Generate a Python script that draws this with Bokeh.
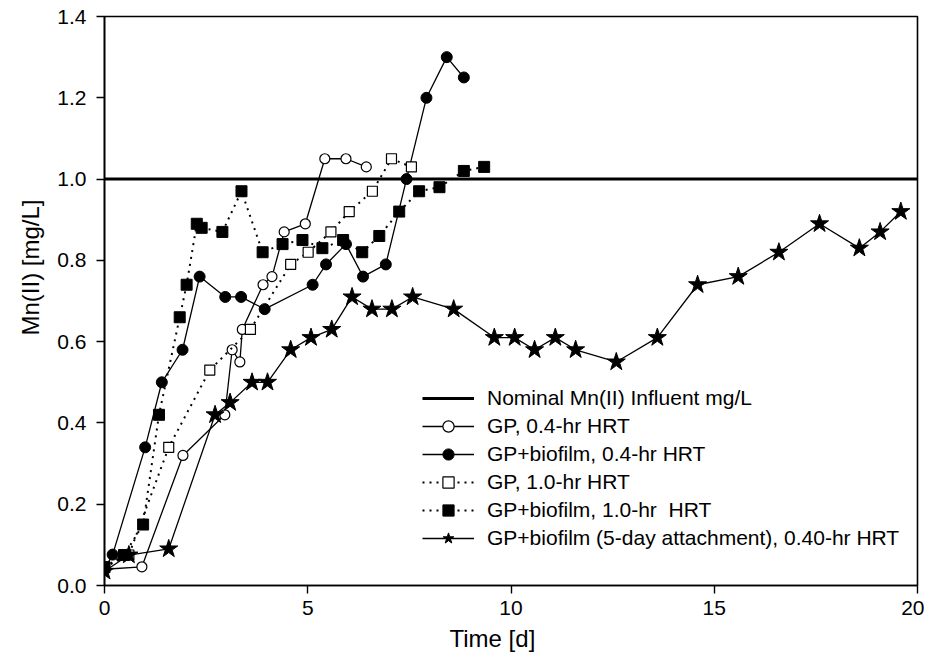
from bokeh.plotting import figure
from bokeh.models import (Range1d, FixedTicker, Legend, LegendItem,
                          NumeralTickFormatter, Title)
from bokeh.embed import file_html
from bokeh.resources import INLINE

# ---------------- data ----------------
nominal_t = [0, 20]
nominal_mn = [1.0, 1.0]

gp04_t = [0, 0.92, 1.93, 2.96, 3.14, 3.33, 3.39, 3.90, 4.12, 4.42, 4.94, 5.42, 5.94, 6.44]
gp04_mn = [0.04, 0.046, 0.32, 0.42, 0.58, 0.55, 0.63, 0.74, 0.76, 0.87, 0.89, 1.05, 1.05, 1.03]

gpb04_t = [0, 0.2, 1.0, 1.41, 1.92, 2.34, 2.97, 3.36, 3.94, 5.12, 5.45, 5.94, 6.36, 6.92, 7.43, 7.92, 8.42, 8.84]
gpb04_mn = [0.04, 0.076, 0.34, 0.50, 0.58, 0.76, 0.71, 0.71, 0.68, 0.74, 0.79, 0.84, 0.76, 0.79, 1.00, 1.20, 1.30, 1.25]

gp10_t = [0, 0.6, 1.58, 2.59, 3.59, 4.58, 5.01, 5.57, 6.02, 6.59, 7.06, 7.55]
gp10_mn = [0.045, 0.075, 0.34, 0.53, 0.63, 0.79, 0.82, 0.87, 0.92, 0.97, 1.05, 1.03]

gpb10_t = [0, 0.48, 0.95, 1.34, 1.85, 2.02, 2.27, 2.39, 2.90, 3.37, 3.89, 4.38, 4.87, 5.36,
           5.87, 6.34, 6.76, 7.25, 7.74, 8.24, 8.84, 9.34]
gpb10_mn = [0.045, 0.075, 0.15, 0.42, 0.66, 0.74, 0.89, 0.88, 0.87, 0.97, 0.82, 0.84, 0.85, 0.83,
            0.85, 0.82, 0.86, 0.92, 0.97, 0.98, 1.02, 1.03]

gpb5d_t = [0, 0.6, 1.58, 2.72, 3.09, 3.63, 4.01, 4.58, 5.08, 5.59, 6.09, 6.58, 7.07, 7.58, 8.59,
           9.59, 10.09, 10.58, 11.09, 11.59, 12.59, 13.60, 14.59, 15.59, 16.59, 17.59, 18.57, 19.08, 19.59]
gpb5d_mn = [0.035, 0.075, 0.09, 0.42, 0.45, 0.50, 0.50, 0.58, 0.61, 0.63, 0.71, 0.68, 0.68, 0.71, 0.68,
            0.61, 0.61, 0.58, 0.61, 0.58, 0.55, 0.61, 0.74, 0.76, 0.82, 0.89, 0.83, 0.87, 0.92]

labels = ["Nominal Mn(II) Influent mg/L",
          "GP, 0.4-hr HRT",
          "GP+biofilm, 0.4-hr HRT",
          "GP, 1.0-hr HRT",
          "GP+biofilm, 1.0-hr  HRT",
          "GP+biofilm (5-day attachment), 0.40-hr HRT"]

x_ticks = [0, 5, 10, 15, 20]
y_ticks = [0.0, 0.2, 0.4, 0.6, 0.8, 1.0, 1.2, 1.4]

FONT = "Liberation Sans"

# ---------------- figure ----------------
p = figure(width=924, height=656, output_backend="svg", toolbar_location=None,
           x_range=Range1d(0, 20), y_range=Range1d(0, 1.4),
           min_border_left=104, min_border_right=7, min_border_top=16, min_border_bottom=71)
p.background_fill_color = "white"
p.border_fill_color = "white"
p.xgrid.grid_line_color = None
p.ygrid.grid_line_color = None
p.outline_line_color = "black"
p.outline_line_width = 1.6
p.outline_line_alpha = 1.0

for ax in (p.xaxis[0], p.yaxis[0]):
    ax.axis_line_width = 1.6
    ax.axis_line_color = "black"
    ax.major_tick_line_width = 1.4
    ax.major_tick_line_color = "black"
    ax.major_tick_out = 8
    ax.major_tick_in = 0
    ax.minor_tick_line_color = None
    ax.major_label_text_font = FONT
    ax.major_label_text_font_size = "21px"
    ax.major_label_text_color = "black"

p.xaxis.ticker = FixedTicker(ticks=x_ticks)
p.yaxis.ticker = FixedTicker(ticks=y_ticks)
p.yaxis.formatter = NumeralTickFormatter(format="0.0")
p.xaxis.major_label_standoff = 7
p.yaxis.major_label_standoff = 10

# axis titles as Titles so they can be offset like in the reference
p.add_layout(Title(text="Time [d]", align="left", offset=345, text_font=FONT,
                   text_font_size="24px", text_font_style="normal", text_color="black",
                   standoff=10), "below")
p.add_layout(Title(text="Mn(II) [mg/L]", align="left", offset=250, text_font=FONT,
                   text_font_size="24px", text_font_style="normal", text_color="black",
                   standoff=22), "left")

# ---------------- glyphs ----------------
r_nom = p.line(nominal_t, nominal_mn, line_color="black", line_width=3)

l1 = p.line(gp04_t, gp04_mn, line_color="black", line_width=1.3)
m1 = p.scatter(gp04_t, gp04_mn, marker="circle", size=10, fill_color="white",
               line_color="black", line_width=1.2)

l2 = p.line(gpb04_t, gpb04_mn, line_color="black", line_width=1.3)
m2 = p.scatter(gpb04_t, gpb04_mn, marker="circle", size=11, fill_color="black",
               line_color="black")

l3 = p.line(gp10_t, gp10_mn, line_color="black", line_width=2, line_dash="2 5")
m3 = p.scatter(gp10_t, gp10_mn, marker="square", size=10, fill_color="white",
               line_color="black", line_width=1.2)

l4 = p.line(gpb10_t, gpb10_mn, line_color="black", line_width=2, line_dash="2 5")
m4 = p.scatter(gpb10_t, gpb10_mn, marker="square", size=11, fill_color="black",
               line_color="black")

l5 = p.line(gpb5d_t, gpb5d_mn, line_color="black", line_width=1.3)
m5 = p.scatter(gpb5d_t, gpb5d_mn, marker="star", size=19, fill_color="black",
               line_color="black")

legend = Legend(items=[
    LegendItem(label=labels[0], renderers=[r_nom]),
    LegendItem(label=labels[1], renderers=[l1, m1]),
    LegendItem(label=labels[2], renderers=[l2, m2]),
    LegendItem(label=labels[3], renderers=[l3, m3]),
    LegendItem(label=labels[4], renderers=[l4, m4]),
    LegendItem(label=labels[5], renderers=[l5, m5]),
], location=(318, 33))
legend.border_line_color = None
legend.background_fill_alpha = 0
legend.label_text_font = FONT
legend.label_text_font_size = "21px"
legend.label_text_color = "black"
legend.glyph_width = 52
legend.glyph_height = 28
legend.label_height = 28
legend.spacing = 0
legend.padding = 0
legend.margin = 0
legend.label_standoff = 13
p.add_layout(legend)

open("out.html", "w").write(file_html(p, INLINE))
